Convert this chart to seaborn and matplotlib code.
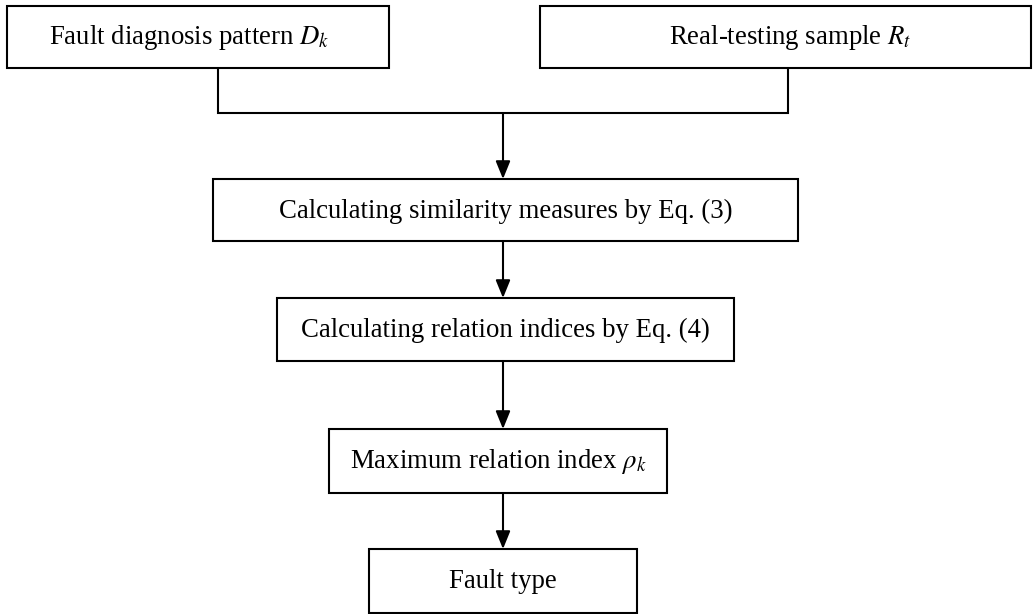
import matplotlib
matplotlib.use("Agg")
import matplotlib.pyplot as plt
from matplotlib.patches import Rectangle
import seaborn as sns

# box labels, top to bottom
labels = [
    "Fault diagnosis pattern $D_k$",
    "Real-testing sample $R_t$",
    "Calculating similarity measures by Eq. (3)",
    "Calculating relation indices by Eq. (4)",
    "Maximum relation index $\\rho_k$",
    "Fault type",
]

# layout in pixels: left, top, right, bottom
box_left = [7, 540, 213, 277, 329, 369]
box_top = [6, 6, 179, 298, 429, 549]
box_right = [389, 1031, 798, 734, 667, 637]
box_bottom = [68, 68, 241, 361, 493, 613]
text_dx = [-9, 5, 0, 0, 0, 0]

# which box flows into which (arrows down the middle)
flow = [(2, 3), (3, 4), (4, 5)]
center_x = 503
join_y = 113
join_x = [218, 788]

sns.set_theme(style="white")
plt.rcParams["font.family"] = ["Liberation Serif", "DejaVu Serif"]
plt.rcParams["mathtext.fontset"] = "stix"

fig = plt.figure(figsize=(10.33, 6.14), dpi=100)
ax = fig.add_axes([0, 0, 1, 1])
ax.set_xlim(0, 1033)
ax.set_ylim(614, 0)
ax.axis("off")

lw = 1.5
for i, lab in enumerate(labels):
    x0, y0, x1, y1 = box_left[i], box_top[i], box_right[i], box_bottom[i]
    ax.add_patch(Rectangle((x0, y0), x1 - x0, y1 - y0, fill=False,
                           edgecolor="black", linewidth=lw))
    ax.text((x0 + x1) / 2 + text_dx[i], (y0 + y1) / 2 + 1, lab,
            ha="center", va="center", fontsize=19.3, color="black")

# joining line from the two top boxes
ax.plot([join_x[0], join_x[0], join_x[1], join_x[1]],
        [box_bottom[0], join_y, join_y, box_bottom[1]],
        color="black", linewidth=lw, solid_joinstyle="miter")

arrow = dict(arrowstyle="-|>,head_length=0.54,head_width=0.22",
             color="black", lw=lw, mutation_scale=20,
             shrinkA=0, shrinkB=0)
ax.annotate("", xy=(center_x, box_top[2]), xytext=(center_x, join_y),
            arrowprops=arrow)
for a, b in flow:
    ax.annotate("", xy=(center_x, box_top[b]), xytext=(center_x, box_bottom[a]),
                arrowprops=arrow)

fig.savefig("out.png", dpi=100, facecolor="white")
